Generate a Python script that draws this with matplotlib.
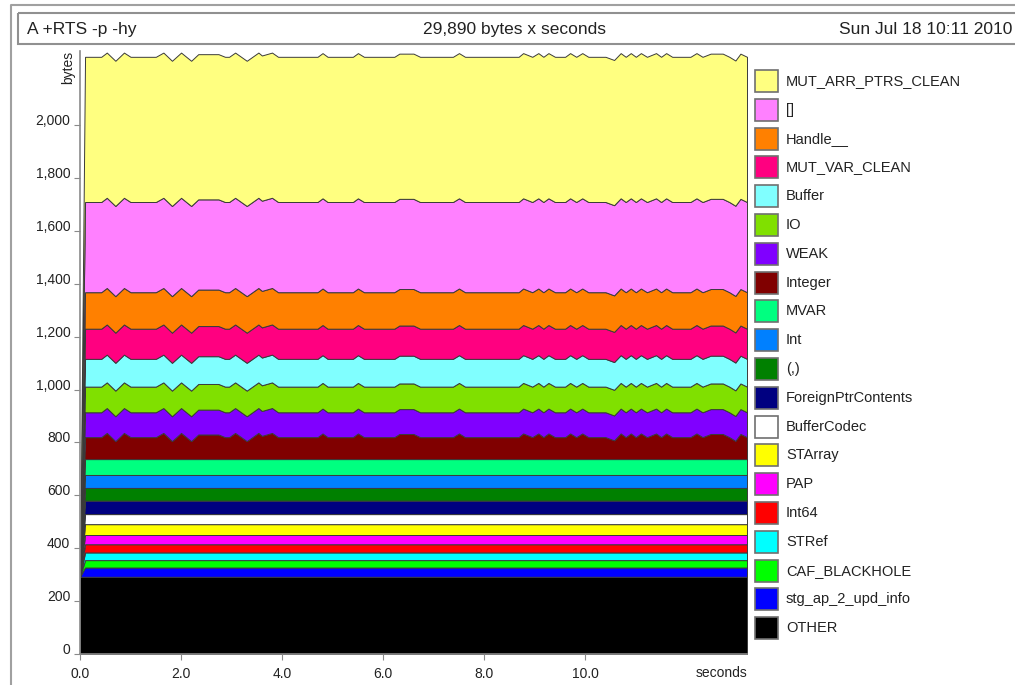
import numpy as np
import matplotlib
matplotlib.use('Agg')
import matplotlib.pyplot as plt
from matplotlib.patches import Rectangle
from matplotlib.lines import Line2D

plt.rcParams['font.family'] = ['Liberation Sans', 'DejaVu Sans']

# bands, bottom to top
bands = ['OTHER', 'stg_ap_2_upd_info', 'CAF_BLACKHOLE', 'STRef', 'Int64', 'PAP',
         'STArray', 'BufferCodec', 'ForeignPtrContents', '(,)', 'Int', 'MVAR',
         'Integer', 'WEAK', 'IO', 'Buffer', 'MUT_VAR_CLEAN', 'Handle__', '[]',
         'MUT_ARR_PTRS_CLEAN']
colours = ['#000000', '#0000ff', '#00ff00', '#00ffff', '#ff0000', '#ff00ff',
           '#ffff00', '#ffffff', '#000080', '#008000', '#0080ff', '#00ff80',
           '#800000', '#8000ff', '#80e000', '#80ffff', '#ff0080', '#ff8000', '#ff80ff',
           '#ffff80']
# bytes of each band (constant after the first sample)
band_bytes = [292, 35, 28, 29, 31, 35, 41, 38, 51, 48, 49, 60,
              83, 94, 97, 105, 114, 138, 341, 549]
# first sample: only OTHER is there
first_sample = [292, 0, 0, 0, 0, 0, 0, 0, 0, 0, 0, 0,
                0, 0, 0, 0, 0, 0, 0, 0]

# Integer is the only band that moves
times = [0.0, 0.10, 0.42, 0.53, 0.70, 0.87, 1.00, 1.50, 1.65, 1.82, 2.00, 2.20,
         2.34, 2.74, 2.87, 2.95, 3.07, 3.30, 3.53, 3.60, 3.80, 3.92, 4.70, 4.80,
         4.90, 5.40, 5.50, 5.62, 6.22, 6.32, 6.60, 6.73, 7.38, 7.50, 7.62, 8.68,
         8.77, 8.95, 9.07, 9.17, 9.27, 9.40, 9.60, 9.70, 9.82, 9.94, 10.06, 10.40,
         10.57, 10.70, 10.80, 10.90, 11.00, 11.10, 11.22, 11.40, 11.50, 11.60,
         11.72, 12.08, 12.20, 12.32, 12.48, 12.72, 12.85, 12.97, 13.07, 13.20]
integer_bytes = [0, 83, 83, 99, 68, 99, 83, 83, 99, 68, 99, 68,
                 93, 93, 83, 83, 99, 68, 99, 88, 99, 83, 83, 97,
                 83, 83, 97, 83, 83, 95, 95, 83, 83, 97, 83, 83,
                 97, 83, 97, 83, 97, 83, 83, 97, 83, 97, 83, 83,
                 71, 97, 83, 97, 83, 97, 83, 97, 83, 97,
                 83, 83, 97, 83, 95, 95, 83, 69, 95, 83]

x_ticks = [0, 2, 4, 6, 8, 10]
x_labels = ['0.0', '2.0', '4.0', '6.0', '8.0', '10.0']
y_ticks = [0, 200, 400, 600, 800, 1000, 1200, 1400, 1600, 1800, 2000]
y_labels = ['0', '200', '400', '600', '800', '1,000', '1,200', '1,400', '1,600',
            '1,800', '2,000']

table = np.array([[first_sample[i]] + [band_bytes[i]] * (len(times) - 1)
                  for i in range(len(bands))], dtype=float)
table[bands.index('Integer')] = integer_bytes

W, H = 1015, 685
fig = plt.figure(figsize=(W / 100, H / 100), dpi=100)

ax = fig.add_axes([80 / W, (H - 654) / H, (747 - 80) / W, (654 - 51) / H])
ax.stackplot(times, table, colors=colours, edgecolor='#3a3a3a', linewidth=0.7)
ax.set_xlim(0, 13.2)
ax.set_ylim(0, 2280)
for s in ['top', 'right']:
    ax.spines[s].set_visible(False)
for s in ['left', 'bottom']:
    ax.spines[s].set_color('#8a8a8a')
    ax.spines[s].set_linewidth(1.2)
ax.set_xticks(x_ticks)
ax.set_xticklabels(x_labels)
ax.set_yticks(y_ticks)
ax.set_yticklabels(y_labels)
for lab in ax.get_yticklabels():
    lab.set_va('baseline')
ax.tick_params(direction='out', length=4, color='#8a8a8a', labelsize=10,
               labelcolor='#222222')
ax.tick_params(axis='x', pad=5)
ax.tick_params(axis='y', pad=3)
ax.text(1.0, -0.032, 'seconds', transform=ax.transAxes, ha='right', va='center',
        fontsize=10, color='#222222')
ax.text(-0.018, 1.0, 'bytes', transform=ax.transAxes, ha='center', va='top',
        rotation=90, fontsize=10, color='#222222')

# overlay in pixel coordinates for frame, title box and key
ov = fig.add_axes([0, 0, 1, 1])
ov.set_xlim(0, W)
ov.set_ylim(H, 0)
ov.axis('off')
ov.set_zorder(-1)
ov.add_line(Line2D([11, 11, 1030], [700, 5, 5], color='#a0a0a0', lw=1.5))
ov.add_patch(Rectangle((18, 13), 1030, 31, fill=False, edgecolor='#909090', lw=1.5))
ov.text(27, 29, 'A +RTS -p -hy', ha='left', va='center', fontsize=12.5, color='#222222')
ov.text(515, 29, '29,890 bytes x seconds', ha='center', va='center', fontsize=12.5,
        color='#222222')
ov.text(1012, 29, 'Sun Jul 18 10:11 2010', ha='right', va='center', fontsize=12.5,
        color='#222222')

key_order = bands[::-1]
key_colours = colours[::-1]
for i, (name, col) in enumerate(zip(key_order, key_colours)):
    top = 70 + 28.8 * i
    ov.add_patch(Rectangle((755, top), 23, 22, facecolor=col, edgecolor='#707070', lw=1.2))
    ov.text(786, top + 11, name, ha='left', va='center', fontsize=10.5, color='#222222')

plt.savefig('out.png', dpi=100)
